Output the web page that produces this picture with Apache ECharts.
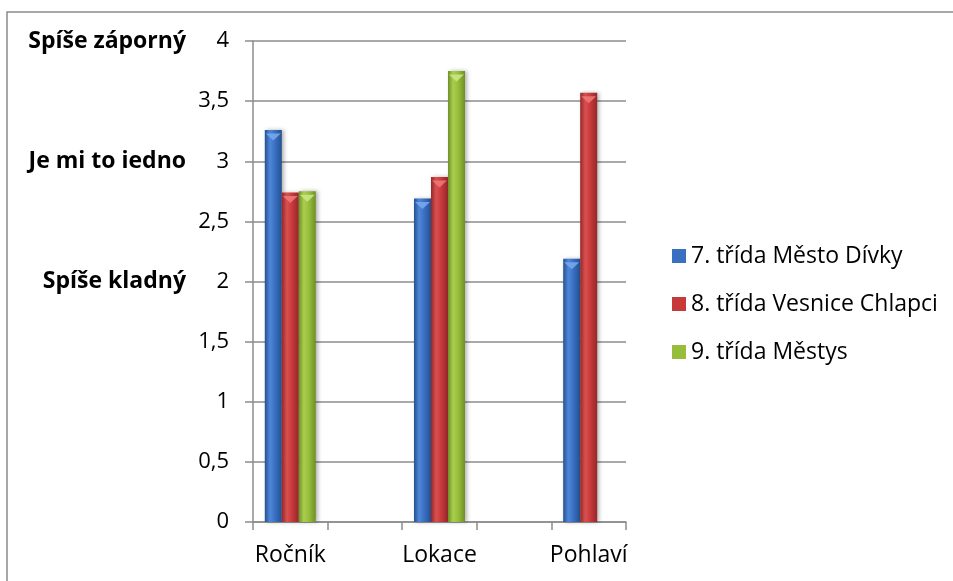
<!DOCTYPE html>
<html>
<head>
<meta charset="utf-8">
<script src="https://cdn.jsdelivr.net/npm/echarts@6/dist/echarts.min.js"></script>
<style>html,body{margin:0;padding:0;background:#fff}#c{width:953px;height:581px}</style>
</head>
<body>
<div id="c"></div>
<script>
const categories = ['Ročník', '', 'Lokace', '', 'Pohlaví'];
const seriesNames = ['7. třída Město Dívky', '8. třída Vesnice Chlapci', '9. třída Městys'];
const blueValues = [3.26, null, 2.69, null, 2.19];
const redValues = [2.74, null, 2.87, null, 3.57];
const greenValues = [2.75, null, 3.75, null, null];
const scaleLabels = { 4: 'Spíše záporný', 3: 'Je mi to iedno', 2: 'Spíše kladný' };

const FONT = '"Open Sans", "Noto Sans", sans-serif';
function grad(edge, mid, light) {
  return new echarts.graphic.LinearGradient(0, 0, 1, 0, [
    { offset: 0, color: edge },
    { offset: 0.3, color: light },
    { offset: 0.6, color: mid },
    { offset: 1, color: edge }
  ]);
}
const styles = [
  { color: grad('#24508f', '#3a70c2', '#4f87d8'), legend: '#3a70c2', cap: '#7aaaf0' },
  { color: grad('#95272a', '#c8393a', '#d85150'), legend: '#c8393a', cap: '#ee7a78' },
  { color: grad('#6f8f26', '#97bd3b', '#aacf4f'), legend: '#97bd3b', cap: '#cde888' }
];
const dataSets = [blueValues, redValues, greenValues];

const barSeries = dataSets.map((d, i) => ({
  name: seriesNames[i], type: 'bar', data: d, barWidth: 17, barGap: '0%',
  itemStyle: { color: styles[i].color, shadowColor: 'rgba(0,0,0,0.3)', shadowBlur: 4, shadowOffsetX: 2 }
}));
const capSeries = dataSets.map((d, i) => ({
  name: seriesNames[i] + ' cap', type: 'pictorialBar', data: d, barWidth: 17, barGap: '0%',
  symbol: 'path://M0,0 L10,0 L5,4 Z', symbolPosition: 'end', symbolSize: [15, 7], symbolOffset: [0, '50%'],
  itemStyle: { color: styles[i].cap, opacity: 0.85 }, z: 3, silent: true
}));

const chart = echarts.init(document.getElementById('c'));
chart.setOption({
  backgroundColor: '#fff',
  animation: false,
  graphic: [
    { type: 'polyline', shape: { points: [[7, 581], [7, 12], [953, 12]] }, style: { stroke: '#8c8c8c', lineWidth: 1.5, fill: null } }
  ],
  grid: { left: 253, right: 327, top: 41, bottom: 59, containLabel: false },
  legend: {
    orient: 'vertical', left: 667, top: 239, itemGap: 24,
    itemWidth: 14, itemHeight: 14, icon: 'rect',
    textStyle: { fontFamily: FONT, fontSize: 23, lineHeight: 24, color: '#000', padding: [0, 0, 0, 0] },
    data: seriesNames.map((n, i) => ({ name: n, itemStyle: { color: styles[i].legend } }))
  },
  xAxis: {
    type: 'category', data: categories,
    axisLine: { lineStyle: { color: '#8c8c8c', width: 1.5 } },
    axisTick: { show: true, length: 8, lineStyle: { color: '#8c8c8c', width: 1.5 } },
    axisLabel: { fontFamily: FONT, fontSize: 23, color: '#000', margin: 22, interval: 0 }
  },
  yAxis: [
    {
      type: 'value', min: 0, max: 4, interval: 0.5,
      axisLine: { show: true, lineStyle: { color: '#8c8c8c', width: 1.5 } },
      axisTick: { show: true, length: 8, lineStyle: { color: '#8c8c8c', width: 1.5 } },
      splitLine: { lineStyle: { color: '#8c8c8c', width: 1.5 } },
      axisLabel: { fontFamily: FONT, fontSize: 22, color: '#000', margin: 24,
        formatter: v => String(v).replace('.', ',') }
    },
    {
      type: 'value', min: 0, max: 4, interval: 0.5, position: 'left',
      axisLine: { show: false }, axisTick: { show: false }, splitLine: { show: false },
      axisLabel: { fontFamily: FONT, fontSize: 23, fontWeight: 'bold', color: '#000', margin: 67,
        formatter: v => scaleLabels[v] || '' }
    }
  ],
  series: barSeries.concat(capSeries)
});
</script>
</body>
</html>
